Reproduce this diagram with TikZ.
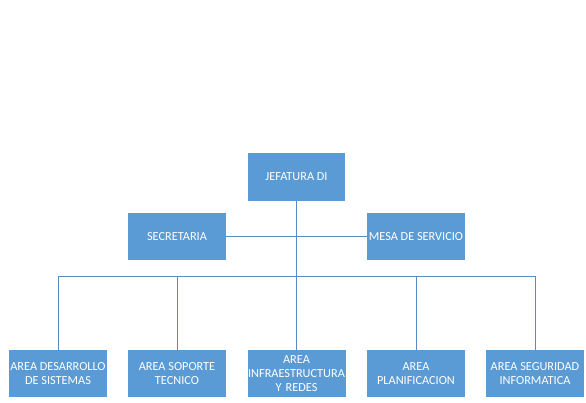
\documentclass[tikz,border=0pt]{standalone}
\usepackage{fontspec}
\setmainfont{Carlito}
\definecolor{boxblue}{HTML}{5B9BD5}
\definecolor{lineblue}{HTML}{5A8AC6}
\begin{document}
\begin{tikzpicture}[x=1pt,y=1pt,
  unit/.style={rectangle, fill=boxblue, text=white, minimum width=98pt, minimum height=47pt,
    inner xsep=0pt, inner ysep=1pt, align=center, font=\fontsize{12.3}{14}\selectfont},
  link/.style={draw=lineblue, line width=0.8pt}]
\useasboundingbox[fill=white] (0,0) rectangle (586,402);
\node[unit, minimum width=97pt, minimum height=48pt] (jef) at (296.5,225) {JEFATURA DI};
\node[unit] (sec) at (177,165.5) {SECRETARIA};
\node[unit] (mesa) at (416,165.5) {MESA DE SERVICIO};
\node[unit] (b1) at (58,28.5) {AREA DESARROLLO\\DE SISTEMAS};
\node[unit] (b2) at (177,28.5) {AREA SOPORTE\\TECNICO};
\node[unit, text width=98pt] (b3) at (296.5,28.5) {AREA\\\makebox[0pt]{INFRAESTRUCTURA}\\Y REDES};
\node[unit] (b4) at (416,28.5) {AREA\\PLANIFICACION};
\node[unit] (b5) at (535,28.5) {AREA SEGURIDAD\\INFORMATICA};
\coordinate (bus) at (296.5,126);
\draw[link] (sec.east) -- (mesa.west);
\draw[link] (jef.south) -- (jef.south |- bus);
\draw[link] (b1.north |- bus) -- (b5.north |- bus);
\foreach \b in {b1,b2,b3,b4,b5}{
  \draw[link] (\b.north) -- (\b.north |- bus);
}
\end{tikzpicture}
\end{document}
